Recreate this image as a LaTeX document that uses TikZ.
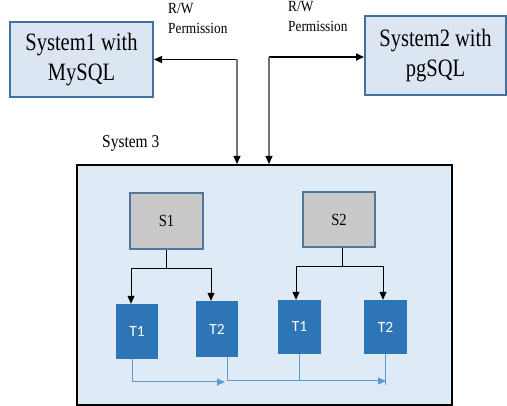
\documentclass[tikz,border=0pt]{standalone}
\usepackage{fontspec}
\setmainfont{Liberation Serif}[FakeStretch=0.86]
\newfontfamily\sysfont{Liberation Serif}[FakeStretch=0.82]
\newfontfamily\tfont{Carlito}
\usetikzlibrary{arrows.meta,calc}
\definecolor{sysfill}{HTML}{DCE6F2}
\definecolor{sysdraw}{HTML}{41719C}
\definecolor{bigfill}{HTML}{DEEAF6}
\definecolor{sfill}{HTML}{C9C9C9}
\definecolor{sdraw}{HTML}{52759A}
\definecolor{tfill}{HTML}{2E75B6}
\definecolor{bline}{HTML}{5B9BD5}
\tikzset{
  sysbox/.style={draw=sysdraw, line width=2pt, fill=sysfill, align=center, inner sep=0pt,
    font=\sysfont\fontsize{25}{30}\selectfont},
  bigbox/.style={draw=black, line width=2pt, fill=bigfill, inner sep=0pt},
  sbox/.style={draw=sdraw, line width=2pt, fill=sfill, inner sep=0pt,
    font=\fontsize{17}{20}\selectfont},
  tbox/.style={fill=tfill, inner sep=0pt, text=white, font=\tfont\fontsize{15.5}{18}\selectfont},
  lbl/.style={align=left, inner sep=0pt, font=\fontsize{15.5}{20}\selectfont},
  arr/.style={line width=1pt, -{Triangle[length=8pt,width=7pt]}},
  bl/.style={draw=bline, line width=1pt},
}
\begin{document}
\begin{tikzpicture}[x=1pt,y=-1pt]
\useasboundingbox (0,0) rectangle (507,406);
% main boxes
\node[sysbox, minimum width=143pt, minimum height=75pt] (sys1) at (81.5,59.5) {System1 with\\MySQL};
\node[sysbox, minimum width=141pt, minimum height=79pt] (sys2) at (435.5,55.5) {System2 with\\pgSQL};
\node[bigbox, minimum width=375pt, minimum height=240pt] (sys3) at (264.5,285) {};
% labels
\node[lbl, anchor=north west] (lab1) at (168,3) {R/W\\Permission};
\node[lbl, anchor=north west] (lab2) at (288,1) {R/W\\Permission};
\node[inner sep=0pt, anchor=west, font=\fontsize{18}{20}\selectfont] (lab3) at (102,143) {System 3};
% inner boxes
\node[sbox, minimum width=73pt, minimum height=56pt] (s1) at (166.5,221) {S1};
\node[sbox, minimum width=72pt, minimum height=55pt] (s2) at (339,219.5) {S2};
\node[tbox, minimum width=42pt, minimum height=55pt] (t1l) at (137,331.5) {T1};
\node[tbox, minimum width=42pt, minimum height=56pt] (t2l) at (217,329) {T2};
\node[tbox, minimum width=43pt, minimum height=54pt] (t1r) at (299.5,327) {T1};
\node[tbox, minimum width=43pt, minimum height=54pt] (t2r) at (385.5,327) {T2};
% R/W connectors
\coordinate (j1) at (237,59.5);
\coordinate (j2) at (269,57);
\draw[line width=1.3pt, -{Triangle[length=8pt,width=7pt]}] (j1) -- (sys1.east);
\draw[gray!90!black, line width=1.2pt, arrows={-{Triangle[length=8pt,width=7pt,color=black]}}] (j1) -- (j1 |- sys3.north);
\draw[line width=1.6pt, -{Triangle[length=8pt,width=7pt]}] (j2) -- (j2 -| sys2.west);
\draw[gray!90!black, line width=1.2pt, arrows={-{Triangle[length=8pt,width=7pt,color=black]}}] (j2) -- (j2 |- sys3.north);
% S1 tree
\coordinate (b1) at (166.5,269);
\draw[line width=1pt] (s1.south) -- (b1);
\draw[arr] (b1) -| ([xshift=-6pt]t1l.north);
\draw[arr] (b1) -| ([xshift=-6pt]t2l.north);
% S2 tree
\coordinate (b2) at (342,267);
\draw[line width=1pt] ([xshift=3pt]s2.south) -- (b2);
\draw[arr] (b2) -| ([xshift=-3.5pt]t1r.north);
\draw[arr] (b2) -| ([xshift=-2.5pt]t2r.north);
% bottom blue flow
\coordinate (m1) at (225,382);
\coordinate (e2) at (386,381);
\draw[bl, -{Triangle[length=8pt,width=7pt]}] ([xshift=-5pt]t1l.south) |- (m1);
\draw[bl, -{Triangle[length=8pt,width=7pt]}] ([xshift=10pt]t2l.south) |- (e2);
\draw[bl] (t1r.south) -- (t1r.south |- e2);
\draw[bl] (t2r.south) -- ([yshift=-4pt]t2r.south |- e2);
\end{tikzpicture}
\end{document}
